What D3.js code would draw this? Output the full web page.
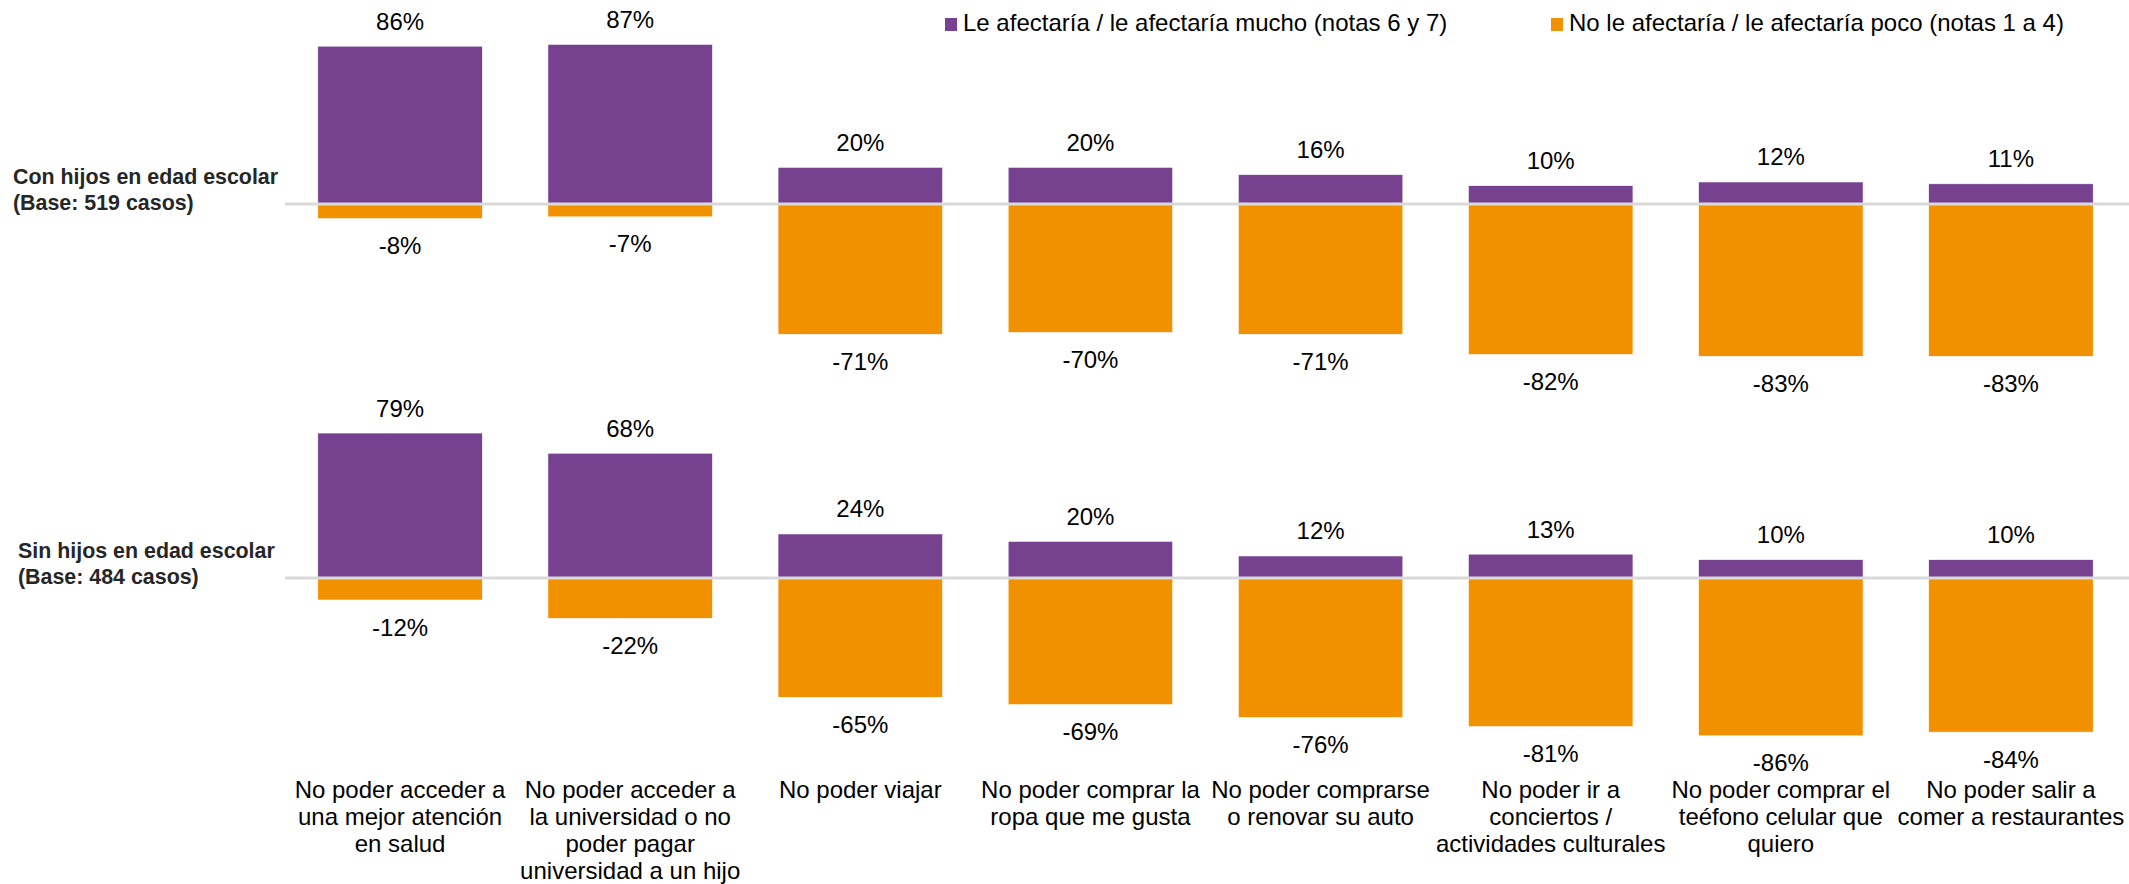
<!DOCTYPE html>
<html>
<head>
<meta charset="utf-8">
<script src="https://cdn.jsdelivr.net/npm/d3@7"></script>
<style>
  body { margin: 0; background: #fff; }
  svg { display: block; font-family: "Liberation Sans", Arial, sans-serif; }
</style>
</head>
<body>
<svg id="chart" width="2129" height="884"></svg>
<script>
const width = 2129;
const height = 884;

// categories, one entry per line of the wrapped label
const categories = [
  ["No poder acceder a", "una mejor atención", "en salud"],
  ["No poder acceder a", "la universidad o no", "poder pagar", "universidad a un hijo"],
  ["No poder viajar"],
  ["No poder comprar la", "ropa que me gusta"],
  ["No poder comprarse", "o renovar su auto"],
  ["No poder ir a", "conciertos /", "actividades culturales"],
  ["No poder comprar el", "teéfono celular que", "quiero"],
  ["No poder salir a", "comer a restaurantes"]
];
const groupNames = ["Con hijos en edad escolar", "Sin hijos en edad escolar"];
const groupBases = ["(Base: 519 casos)", "(Base: 484 casos)"];
const seriesNames = [
  "Le afectaría / le afectaría mucho (notas 6 y 7)",
  "No le afectaría / le afectaría poco (notas 1 a 4)"
];

const conAfecta = [86, 87, 20, 20, 16, 10, 12, 11];
const conNoAfecta = [-8, -7, -71, -70, -71, -82, -83, -83];
const sinAfecta = [79, 68, 24, 20, 12, 13, 10, 10];
const sinNoAfecta = [-12, -22, -65, -69, -76, -81, -86, -84];

const purple = "#76418f";
const orange = "#f29100";

const svg = d3.select("#chart");
const keys = categories.map((c, i) => "c" + i);

const x = d3.scaleBand()
  .domain(keys)
  .range([285, 2126])
  .paddingInner(0.285)
  .paddingOuter(0.1425);

const panels = [
  { name: groupNames[0], base: groupBases[0], pos: conAfecta, neg: conNoAfecta, zero: 204, labelX: 13 },
  { name: groupNames[1], base: groupBases[1], pos: sinAfecta, neg: sinNoAfecta, zero: 578, labelX: 18 }
];

panels.forEach(function(p) {
  const y = d3.scaleLinear().domain([-100, 100]).range([p.zero + 183.5, p.zero - 183.5]);
  const g = svg.append("g");

  // purple bars (positive)
  g.selectAll("rect.pos")
    .data(p.pos)
    .enter()
    .append("rect")
    .attr("class", "pos")
    .attr("x", (d, i) => x(keys[i]))
    .attr("y", d => y(d))
    .attr("width", x.bandwidth())
    .attr("height", d => y(0) - y(d))
    .attr("fill", purple)
    .attr("stroke", "#fff")
    .attr("stroke-width", 0.6);

  // orange bars (negative)
  g.selectAll("rect.neg")
    .data(p.neg)
    .enter()
    .append("rect")
    .attr("class", "neg")
    .attr("x", (d, i) => x(keys[i]))
    .attr("y", y(0))
    .attr("width", x.bandwidth())
    .attr("height", d => y(d) - y(0))
    .attr("fill", orange)
    .attr("stroke", "#fff")
    .attr("stroke-width", 0.6);

  // zero line
  g.append("line")
    .attr("x1", 285).attr("x2", width)
    .attr("y1", y(0)).attr("y2", y(0))
    .attr("stroke", "#d9d9d9")
    .attr("stroke-width", 3);

  // value labels
  g.selectAll("text.pos")
    .data(p.pos)
    .enter()
    .append("text")
    .attr("x", (d, i) => x(keys[i]) + x.bandwidth() / 2)
    .attr("y", d => y(d) - 16.5)
    .attr("text-anchor", "middle")
    .attr("font-size", 24)
    .attr("fill", "#000")
    .text(d => d + "%");

  g.selectAll("text.neg")
    .data(p.neg)
    .enter()
    .append("text")
    .attr("x", (d, i) => x(keys[i]) + x.bandwidth() / 2)
    .attr("y", d => y(d) + 35.5)
    .attr("text-anchor", "middle")
    .attr("font-size", 24)
    .attr("fill", "#000")
    .text(d => d + "%");

  // group label on the left
  const lab = g.append("text")
    .attr("font-size", 21.4)
    .attr("font-weight", "bold")
    .attr("fill", "#262626");
  lab.append("tspan").attr("x", p.labelX).attr("y", p.zero - 20).text(p.name);
  lab.append("tspan").attr("x", p.labelX).attr("y", p.zero + 5.5).text(p.base);
});

// category labels at the bottom
const catText = svg.selectAll("text.cat")
  .data(categories)
  .enter()
  .append("text")
  .attr("class", "cat")
  .attr("text-anchor", "middle")
  .attr("font-size", 24)
  .attr("fill", "#000");

catText.selectAll("tspan")
  .data((d, i) => d.map(line => ({ line: line, i: i })))
  .enter()
  .append("tspan")
  .attr("x", d => x(keys[d.i]) + x.bandwidth() / 2)
  .attr("y", (d, j) => 797.5 + j * 27)
  .text(d => d.line);

// legend
const legend = svg.append("g");
const legendX = [945, 1551];
[purple, orange].forEach(function(c, i) {
  legend.append("rect")
    .attr("x", legendX[i]).attr("y", 18)
    .attr("width", 12).attr("height", 13)
    .attr("fill", c);
  legend.append("text")
    .attr("x", legendX[i] + 18).attr("y", 31)
    .attr("font-size", 24)
    .attr("fill", "#000")
    .text(seriesNames[i]);
});
</script>
</body>
</html>
